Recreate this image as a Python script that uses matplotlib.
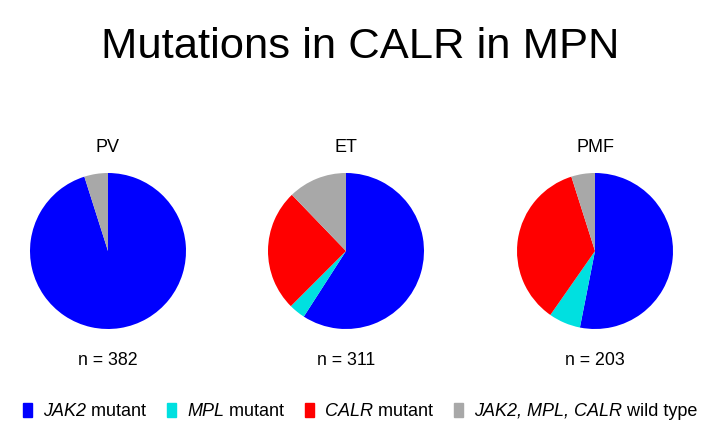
import matplotlib
matplotlib.use('Agg')
import matplotlib.pyplot as plt
from matplotlib.patches import Rectangle

plt.rcParams['font.family'] = ['Liberation Sans', 'DejaVu Sans']

# percentages
groups = ['PV', 'ET', 'PMF']
n_patients = [382, 311, 203]
jak2_mutant = [95.1, 59.1, 53.1]
mpl_mutant = [0.0, 3.4, 6.6]
calr_mutant = [0.0, 25.3, 35.4]
wild_type = [4.9, 12.2, 4.9]

colors = ['#0000ff', '#00e0e0', '#ff0000', '#a8a8a8']
legend_labels = [
    [('JAK2', True), (' mutant', False)],
    [('MPL', True), (' mutant', False)],
    [('CALR', True), (' mutant', False)],
    [('JAK2, MPL, CALR', True), (' wild type', False)],
]

W, H = 725, 429
fig = plt.figure(figsize=(W / 100, H / 100), dpi=100)
fig.patch.set_facecolor('white')

fig.text(360 / W, 1 - 58.5 / H, 'Mutations in CALR in MPN', ha='center',
         va='baseline', fontsize=31.3)

centers_x = [108, 346, 595]
center_y = 251
radius = 78

for i, g in enumerate(groups):
    cx = centers_x[i]
    ax = fig.add_axes([(cx - radius) / W, (H - center_y - radius) / H,
                       2 * radius / W, 2 * radius / H])
    vals = [jak2_mutant[i], mpl_mutant[i], calr_mutant[i], wild_type[i]]
    ax.pie(vals, colors=colors, startangle=90, counterclock=False,
           wedgeprops=dict(linewidth=0))
    ax.set_xlim(-1, 1)
    ax.set_ylim(-1, 1)
    ax.set_aspect('equal')
    ax.axis('off')
    fig.text(cx / W, 1 - 152 / H, g, ha='center', va='baseline', fontsize=13)
    fig.text(cx / W, 1 - 365 / H, f'n = {n_patients[i]}', ha='center',
             va='baseline', fontsize=12.8)

# legend drawn by hand so part of each label can be italic
fig.canvas.draw()
renderer = fig.canvas.get_renderer()
leg_y = 1 - 416 / H
x = 23
for color, parts in zip(colors, legend_labels):
    fig.patches.append(Rectangle((x / W, (H - 417) / H), 9 / W, 14 / H,
                                 transform=fig.transFigure, color=color,
                                 figure=fig))
    x += 20
    for txt, italic in parts:
        t = fig.text(x / W, leg_y, txt, ha='left', va='baseline', fontsize=13.0,
                     style='italic' if italic else 'normal')
        bb = t.get_window_extent(renderer)
        x += bb.width
    x += 21

fig.savefig('out.png', dpi=100, facecolor='white')
